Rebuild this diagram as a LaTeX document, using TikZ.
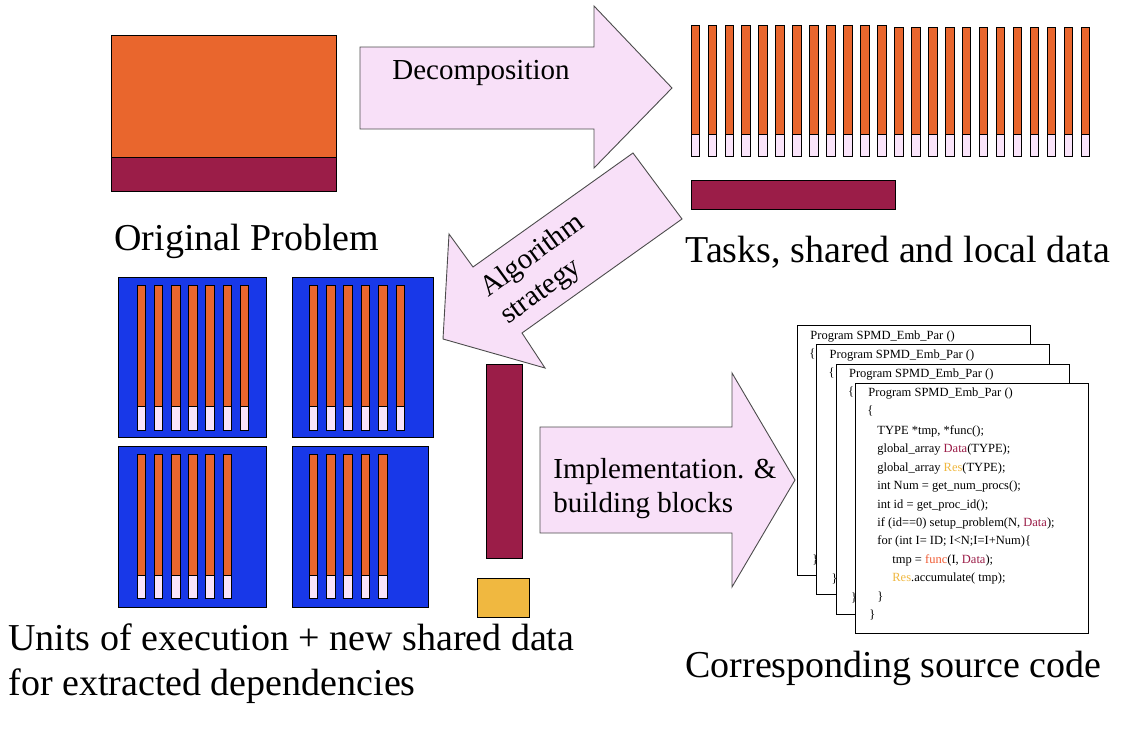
\documentclass[tikz,border=0pt]{standalone}
\usepackage{fontspec}
\setmainfont{Liberation Serif}
\usetikzlibrary{positioning}
\definecolor{taskorange}{RGB}{233,102,45}
\definecolor{sharedred}{RGB}{155,29,72}
\definecolor{uebl}{RGB}{24,56,232}
\definecolor{localpink}{RGB}{250,228,250}
\definecolor{arrowpink}{RGB}{248,224,248}
\definecolor{newgold}{RGB}{240,184,64}
\definecolor{funcred}{RGB}{240,90,50}

% one task: orange work part on top, pink local data below
\newcommand{\taskbar}[4]{%
  \filldraw[fill=taskorange] (#1,#2) rectangle (#1+8.5,#3);
  \filldraw[fill=localpink] (#1,#3) rectangle (#1+8.5,#4);
}

\begin{document}
\begin{tikzpicture}[x=1pt, y=-1pt, line width=0.8pt,
    biglabel/.style={inner sep=0pt, font=\fontsize{38}{45}\selectfont},
    steplabel/.style={inner sep=0pt, font=\fontsize{29}{34}\selectfont},
    bigarrow/.style={fill=arrowpink, draw=black!70, line width=0.9pt},
    codebox/.style={draw, fill=white, anchor=north west, inner sep=0pt,
                    minimum width=233pt, minimum height=250pt},
    codetext/.style={inner sep=0pt, font=\fontsize{12.5}{18.4}\selectfont}]
\useasboundingbox (0,0) rectangle (1132,744);

% original problem
\filldraw[fill=taskorange] (111,35) rectangle (336,157);
\filldraw[fill=sharedred] (111,157) rectangle (336,191);
\node[biglabel, anchor=base west] (origlabel) at (114,250) {Original Problem};

% decomposition arrow
\filldraw[bigarrow] (360,47) -- (594,47) -- (594,6) -- (672,88) -- (594,168)
  -- (594,129) -- (360,129) -- cycle;
\node[steplabel, anchor=base west] (decomp) at (392,79) {Decomposition};

% tasks with local data, and the shared data
\foreach \i in {0,...,23} {
  \pgfmathsetmacro\bx{691+16.96*\i}
  \pgfmathsetmacro\bt{\i<12 ? 25 : 27}
  \taskbar{\bx}{\bt}{134}{156}
}
\filldraw[fill=sharedred] (691,180) rectangle (895,209);
\node[biglabel, anchor=base west] (tasklabel) at (685,262) {Tasks, shared and local data};

% algorithm strategy arrow
\filldraw[bigarrow] (633,153) -- (682,219) -- (522,333) -- (545,368) -- (443,339)
  -- (449,234) -- (473,267) -- cycle;
\node[steplabel, align=left, rotate=36] (algo) at (543,270) {Algorithm\\strategy};

% units of execution
\filldraw[fill=uebl] (118,277) rectangle (266,437);
\filldraw[fill=uebl] (292,277) rectangle (433,437);
\filldraw[fill=uebl] (118,446) rectangle (266,607);
\filldraw[fill=uebl] (292,446) rectangle (428,607);
\foreach \i in {0,...,6} {\taskbar{137+17.2*\i}{285}{406}{430}}
\foreach \i in {0,...,5} {\taskbar{309+17.4*\i}{285}{406}{430}}
\foreach \i in {0,...,5} {\taskbar{137+17.2*\i}{454}{575}{598}}
\foreach \i in {0,...,4} {\taskbar{309+17.4*\i}{454}{575}{598}}
\node[biglabel, align=left, anchor=north west] (uelabel) at (8,623)
  {Units of execution + new shared data\\for extracted dependencies};

% new shared data
\filldraw[fill=sharedred] (486,364) rectangle (522,558);
\filldraw[fill=newgold] (477,578) rectangle (529,617);

% implementation arrow
\filldraw[bigarrow] (540,427) -- (732,427) -- (732,373) -- (795,480) -- (732,587)
  -- (732,533) -- (540,533) -- cycle;
\node[steplabel, align=left, anchor=north west] (impl) at (553,458)
  {Implementation. \&\\building blocks};

% source code, one copy per unit
\foreach \i in {0,...,3} {
  \pgfmathsetmacro\cx{797+19.33*\i}
  \pgfmathsetmacro\cy{325+19.33*\i}
  \node[codebox] (code\i) at (\cx,\cy) {};
  \node[codetext, anchor=base west] at ([shift={(13,14)}]code\i.north west) {Program SPMD\_Emb\_Par ()};
  \node[codetext, anchor=base west] at ([shift={(12,32)}]code\i.north west) {\{};
}
\foreach \i in {0,...,2} {
  \node[codetext, anchor=base west] at ([shift={(15,238)}]code\i.north west) {\}};
}
\node[codetext, align=left, anchor=north west] (src) at ([shift={(14,42.4)}]code3.north west) {%
  \hspace*{8pt}TYPE *tmp, *func();\\
  \hspace*{8pt}global\_array \textcolor{sharedred}{Data}(TYPE);\\
  \hspace*{8pt}global\_array \textcolor{newgold}{Res}(TYPE);\\
  \hspace*{8pt}int Num = get\_num\_procs();\\
  \hspace*{8pt}int id = get\_proc\_id();\\
  \hspace*{8pt}if (id==0) setup\_problem(N, \textcolor{sharedred}{Data});\\
  \hspace*{8pt}for (int I= ID; I<N;I=I+Num)\{\\
  \hspace*{23pt}tmp = \textcolor{funcred}{func}(I, \textcolor{sharedred}{Data});\\
  \hspace*{23pt}\textcolor{newgold}{Res}.accumulate( tmp);\\
  \hspace*{8pt}\}\\
  \}};
\node[biglabel, anchor=base west] (srclabel) at (685,677) {Corresponding source code};
\end{tikzpicture}
\end{document}
